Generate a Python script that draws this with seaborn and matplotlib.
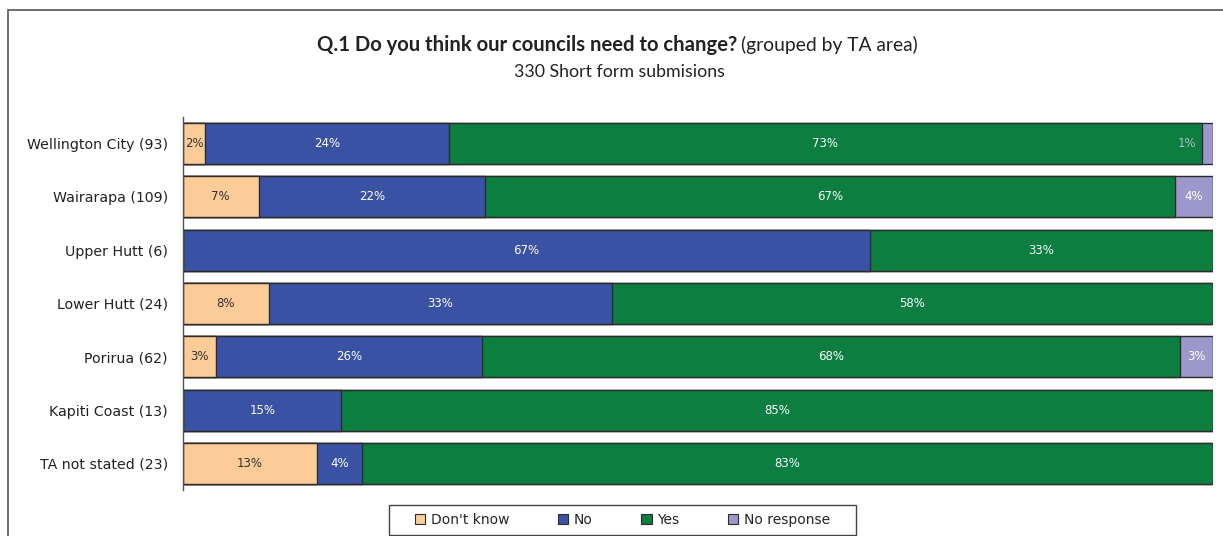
import matplotlib
matplotlib.use("Agg")
import matplotlib.pyplot as plt
from matplotlib.patches import Patch, Rectangle
import numpy as np
import pandas as pd
import seaborn as sns

# Survey responses by territorial authority area (percent of submissions)
areas = [
    "Wellington City (93)",
    "Wairarapa (109)",
    "Upper Hutt (6)",
    "Lower Hutt (24)",
    "Porirua (62)",
    "Kapiti Coast (13)",
    "TA not stated (23)",
]
series_names = ["Don't know", "No", "Yes", "No response"]
dont_know = [2.15, 7.34, 0.0, 8.33, 3.23, 0.0, 13.04]
no_answer = [23.66, 22.02, 66.67, 33.33, 25.81, 15.38, 4.35]
yes = [73.12, 66.97, 33.33, 58.34, 67.74, 84.62, 82.61]
no_response = [1.08, 3.67, 0.0, 0.0, 3.23, 0.0, 0.0]

colors = ["#FBCB98", "#3A52A4", "#0B7E40", "#9C98CC"]
label_colors = ["#333333", "#FFFFFF", "#FFFFFF", "#FFFFFF"]

df = pd.DataFrame({
    "area": areas,
    "Don't know": dont_know,
    "No": no_answer,
    "Yes": yes,
    "No response": no_response,
})
cum = df[series_names].cumsum(axis=1)

sns.set_theme(style="white")
plt.rcParams["font.family"] = ["DejaVu Sans"]

W, H = 1223, 536
fig = plt.figure(figsize=(W / 100, H / 100), dpi=100)
ax = fig.add_axes([183 / W, 46 / H, 1030 / W, 373 / H])

edge = "#2b2b2b"
# stacked bars: draw cumulative totals from the outermost segment inward
for name, col in reversed(list(zip(series_names, colors))):
    sns.barplot(
        x=cum[name], y=df["area"], orient="h", color=col,
        edgecolor=edge, linewidth=1.0, width=0.77, saturation=1, ax=ax,
    )

# segment value labels
for i in range(len(areas)):
    start = 0.0
    for j, name in enumerate(series_names):
        v = df[name].iloc[i]
        if v > 0:
            label = f"{v:.0f}%"
            if v < 1.5:
                ax.text(start - 0.6, i, label, ha="right", va="center",
                        fontsize=8.5, color="#B9B9C9")
            else:
                ax.text(start + v / 2, i, label, ha="center", va="center",
                        fontsize=8.5, color=label_colors[j])
        start += v

ax.set_xlim(0, 100)
ax.set_ylim(6.5, -0.5)
ax.set_xlabel("")
ax.set_ylabel("")
ax.set_xticks([])
ax.tick_params(axis="y", which="major", length=0, labelsize=10.2, pad=11,
               labelcolor="#222222")
ax.set_yticks(np.arange(-0.5, 7.0, 1.0), minor=True)
ax.tick_params(axis="y", which="minor", length=4, width=1, color="#555555",
               direction="out")
for s in ["top", "right", "bottom"]:
    ax.spines[s].set_visible(False)
ax.spines["left"].set_color("#555555")
ax.spines["left"].set_linewidth(1)

# outer chart frame
fig.patches.append(Rectangle((8 / W, -0.2), 1.2, 1.2 - 10 / H,
                             transform=fig.transFigure, fill=False,
                             edgecolor="#555555", linewidth=1.2))

# title
fig.text(737 / W, 1 - 45 / H, "Q.1 Do you think our councils need to change?",
         ha="right", va="center", fontsize=14.6, fontweight="bold",
         family="Lato", color="#222222")
fig.text(741 / W, 1 - 45 / H, "(grouped by TA area)",
         ha="left", va="center", fontsize=13.9, family="Lato", color="#222222")
fig.text(619.5 / W, 1 - 72 / H, "330 Short form submisions",
         ha="center", va="center", fontsize=12.8, family="Lato", color="#222222")

# legend with a fixed box
fig.patches.append(Rectangle((389 / W, 1 - 535 / H), 467 / W, 30 / H,
                             transform=fig.transFigure, facecolor="white",
                             edgecolor="#444444", linewidth=1))
handles = [Patch(facecolor=c, edgecolor=edge, linewidth=0.8) for c in colors]
leg = fig.legend(handles, series_names, loc="center",
                 bbox_to_anchor=(622.5 / W, 1 - 520 / H), ncol=4,
                 fontsize=10, frameon=False,
                 handlelength=0.75, handleheight=0.75, handletextpad=0.4,
                 columnspacing=3.5, borderpad=0.2)

fig.savefig("out.png", dpi=100)
